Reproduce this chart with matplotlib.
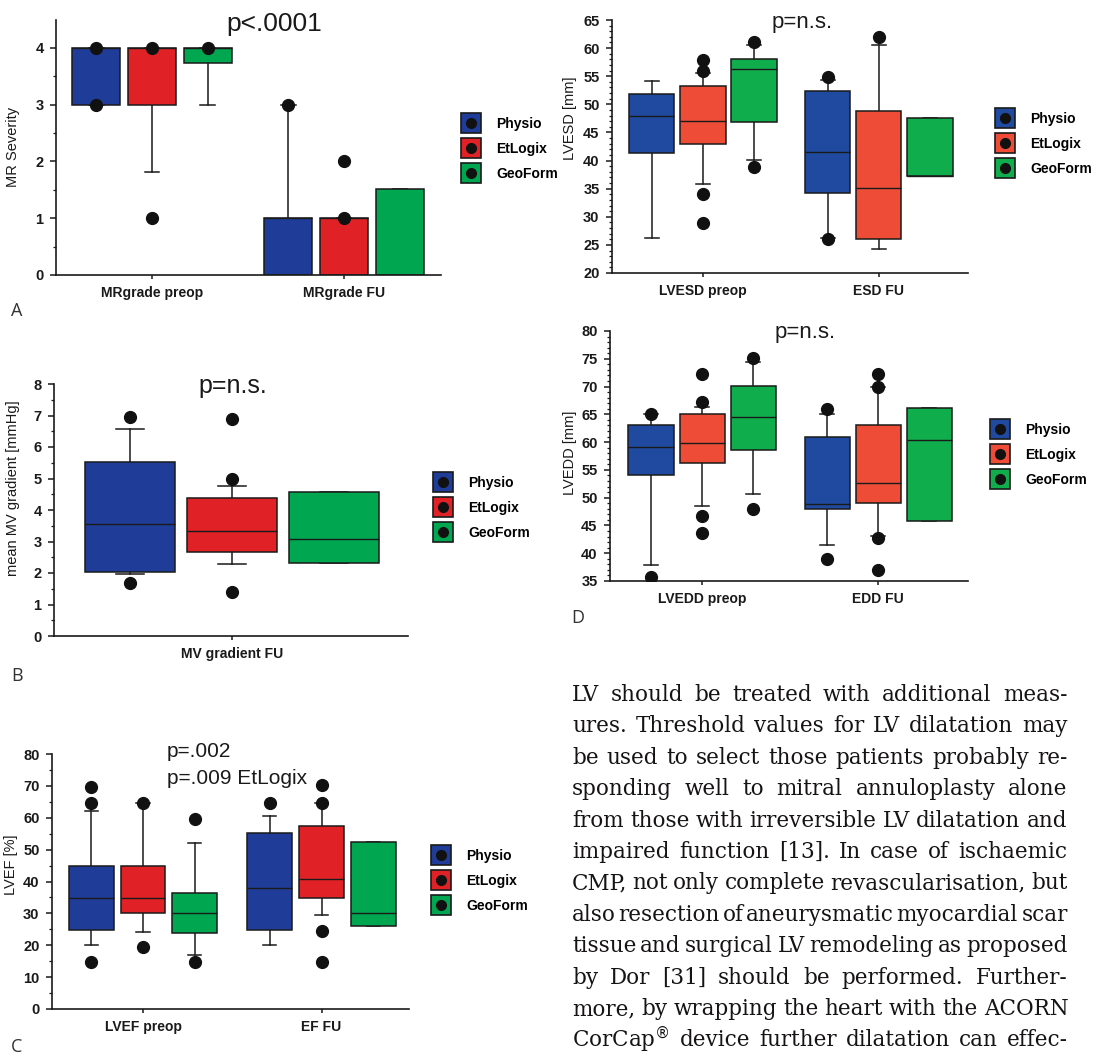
import matplotlib
matplotlib.use("Agg")
import matplotlib.pyplot as plt
from matplotlib.lines import Line2D
from matplotlib.ticker import MultipleLocator

# 群の名前と色
series = ["Physio", "EtLogix", "GeoForm"]
colors_left = ["#1f3c98", "#e02226", "#00a650"]
colors_right = ["#1f4aa0", "#ee4c36", "#10ad4c"]

# A: MR severity
mr_groups = ["MRgrade preop", "MRgrade FU"]
mr_q1 = [3, 3, 3.74, 0, 0, 0]
mr_med = [4, 4, 4, 1, 1, 0]
mr_q3 = [4, 4, 4, 1, 1, 1.51]
mr_lo = [3, 1.81, 3, 0, 0, 0]
mr_hi = [4, 4, 4, 3, 1, 1.51]
mr_out = [[4, 3], [4, 1], [4], [3], [1, 2], []]

# B: mean MV gradient
mv_groups = ["MV gradient FU"]
mv_q1 = [2.02, 2.66, 2.31]
mv_med = [3.55, 3.32, 3.08]
mv_q3 = [5.51, 4.37, 4.56]
mv_lo = [1.96, 2.30, 2.31]
mv_hi = [6.56, 4.77, 4.56]
mv_out = [[6.96, 1.67], [6.89, 4.98, 1.39], []]

# C: LVEF
ef_groups = ["LVEF preop", "EF FU"]
ef_q1 = [24.9, 30.1, 23.8, 24.9, 34.9, 26.0]
ef_med = [34.9, 34.9, 30.2, 37.9, 40.8, 30.1]
ef_q3 = [45.0, 45.0, 36.3, 55.2, 57.5, 52.4]
ef_lo = [20.1, 24.1, 17.0, 20.1, 29.6, 26.0]
ef_hi = [62.2, 64.6, 52.0, 60.4, 64.6, 52.4]
ef_out = [[69.8, 64.6, 14.6], [64.6, 19.6], [59.5, 14.6], [64.6],
          [70.3, 64.6, 24.5, 14.6], []]

# LVESD
esd_groups = ["LVESD preop", "ESD FU"]
esd_q1 = [41.3, 42.9, 46.8, 34.2, 26.0, 37.3]
esd_med = [47.9, 47.1, 56.3, 41.6, 35.1, 37.3]
esd_q3 = [51.8, 53.3, 58.0, 52.4, 48.8, 47.5]
esd_lo = [26.3, 35.8, 40.1, 26.3, 24.2, 37.3]
esd_hi = [54.1, 55.5, 60.6, 54.3, 60.6, 47.5]
esd_out = [[], [57.9, 56.0, 34.0, 28.9], [61.0, 38.9], [54.8, 26.1], [61.9], []]

# D: LVEDD
edd_groups = ["LVEDD preop", "EDD FU"]
edd_q1 = [54.1, 56.2, 58.6, 48.0, 49.1, 45.8]
edd_med = [59.1, 59.8, 64.6, 48.9, 52.7, 60.3]
edd_q3 = [63.1, 65.1, 70.1, 61.0, 63.1, 66.1]
edd_lo = [37.8, 48.5, 50.6, 41.4, 43.1, 45.8]
edd_hi = [65.0, 66.3, 74.4, 65.0, 69.9, 66.1]
edd_out = [[65.0, 35.7], [72.3, 67.2, 46.7, 43.6], [75.2, 47.9], [66.0, 38.9],
           [72.3, 69.9, 42.7, 36.9], []]

text_lines = [
    "LV should be treated with additional meas-",
    "ures. Threshold values for LV dilatation may",
    "be used to select those patients probably re-",
    "sponding well to mitral annuloplasty alone",
    "from those with irreversible LV dilatation and",
    "impaired function [13]. In case of ischaemic",
    "CMP, not only complete revascularisation, but",
    "also resection of aneurysmatic myocardial scar",
    "tissue and surgical LV remodeling as proposed",
    "by Dor [31] should be performed. Further-",
    "more, by wrapping the heart with the ACORN",
    "CorCap$^{\u00ae}$ device further dilatation can effec-",
]

W, H = 1116, 1057
SANS = "Liberation Sans"
INK = "#1a1a1a"

fig = plt.figure(figsize=(W / 100, H / 100), dpi=100)
fig.patch.set_facecolor("white")


def px_axes(x0, x1, ytop, ybot):
    return fig.add_axes([x0 / W, 1 - ybot / H, (x1 - x0) / W, (ybot - ytop) / H])


def box_panel(ax, q1, med, q3, lo, hi, out, positions, width, cols):
    stats = []
    for a, m, b, l, h, f in zip(q1, med, q3, lo, hi, out):
        stats.append(dict(q1=a, med=m, q3=b, whislo=l, whishi=h, fliers=f))
    bp = ax.bxp(stats, positions=positions, widths=width, patch_artist=True,
                manage_ticks=False, capwidths=width * 0.3,
                boxprops=dict(edgecolor=INK, linewidth=1.1, zorder=2),
                medianprops=dict(color=INK, linewidth=1.0, zorder=3),
                whiskerprops=dict(color=INK, linewidth=1.1, zorder=1),
                capprops=dict(color=INK, linewidth=1.1, zorder=1),
                flierprops=dict(marker="o", markersize=8.5, markerfacecolor="#111111",
                                markeredgecolor="#111111", zorder=4))
    for i, patch in enumerate(bp["boxes"]):
        patch.set_facecolor(cols[i % 3])


def style_axes(ax, ylim, major, minor, groups, ticks, xlim):
    ax.set_xlim(*xlim)
    ax.set_ylim(*ylim)
    for s in ("top", "right"):
        ax.spines[s].set_visible(False)
    for s in ("left", "bottom"):
        ax.spines[s].set_linewidth(1.2)
        ax.spines[s].set_color(INK)
    ax.yaxis.set_major_locator(MultipleLocator(major))
    ax.yaxis.set_minor_locator(MultipleLocator(minor))
    ax.set_xticks(ticks)
    ax.set_xticklabels(groups, fontsize=10, fontweight="bold", family=SANS, color=INK)
    ax.tick_params(axis="y", which="major", direction="out", length=4, width=1.1,
                   pad=5, labelsize=10.5, color=INK, labelcolor=INK)
    ax.tick_params(axis="y", which="minor", direction="out", length=2.5, width=0.9, color=INK)
    ax.tick_params(axis="x", direction="out", length=3, width=1.1, pad=5, color=INK)
    for lab in ax.get_yticklabels():
        lab.set_fontweight("bold")
        lab.set_family(SANS)
    ax.set_facecolor("none")


def ylabel_at(ax, text, x_px, y_px):
    ax.set_ylabel(text, fontsize=10.5, family=SANS, color=INK)
    inv = ax.transAxes.inverted()
    xa, ya = inv.transform((x_px, H - y_px))
    ax.yaxis.set_label_coords(xa, ya)


def legend_at(cols, x_px, y_px):
    handles = []
    for c in cols:
        sq = Line2D([], [], marker="s", markersize=14, markerfacecolor=c,
                    markeredgecolor=INK, markeredgewidth=1.2, linestyle="")
        dot = Line2D([], [], marker="o", markersize=7, markerfacecolor="#111111",
                     markeredgecolor="#111111", linestyle="")
        handles.append((sq, dot))
    fig.legend(handles, series, loc="center left", bbox_to_anchor=(x_px / W, 1 - y_px / H),
               bbox_transform=fig.transFigure, frameon=False, handlelength=1.2,
               handletextpad=1.25, labelspacing=0.8,
               prop=dict(family=SANS, size=10, weight="bold"))


def ftext(x_px, y_px, s, **kw):
    return fig.text(x_px / W, 1 - y_px / H, s, **kw)


pos2 = [g + o for g in (0, 1) for o in (-0.29, 0, 0.29)]

# A
axA = px_axes(56, 441, 20, 275)
box_panel(axA, mr_q1, mr_med, mr_q3, mr_lo, mr_hi, mr_out, pos2, 0.25, colors_left)
style_axes(axA, (0, 4.49), 1, 0.5, mr_groups, [0, 1], (-0.5, 1.505))
ylabel_at(axA, "MR Severity", 20, 147)
ftext(274, 31, "p<.0001", ha="center", va="baseline", fontsize=19, family=SANS, color=INK)
legend_at(colors_left, 450, 149)
ftext(11, 316, "A", fontsize=13, family="Open Sans", color="#333333", va="baseline")

# B
axB = px_axes(54, 408, 384, 636)
box_panel(axB, mv_q1, mv_med, mv_q3, mv_lo, mv_hi, mv_out, [-1, 0, 1], 0.89, colors_left)
style_axes(axB, (0, 8), 1, 0.5, mv_groups, [0], (-1.745, 1.725))
ylabel_at(axB, "mean MV gradient [mmHg]", 20, 488)
ftext(233, 393, "p=n.s.", ha="center", va="baseline", fontsize=18, family=SANS, color=INK)
legend_at(colors_left, 422, 508)
ftext(11, 681, "B", fontsize=13, family="Open Sans", color="#333333", va="baseline")

# C
axC = px_axes(52, 409, 754, 1009)
box_panel(axC, ef_q1, ef_med, ef_q3, ef_lo, ef_hi, ef_out, pos2, 0.25, colors_left)
style_axes(axC, (0, 80), 10, 5, ef_groups, [0, 1], (-0.51, 1.49))
ylabel_at(axC, "LVEF [%]", 18, 865)
ftext(167, 757, "p=.002", ha="left", va="baseline", fontsize=15, family=SANS, color=INK)
ftext(167, 784, "p=.009 EtLogix", ha="left", va="baseline", fontsize=15, family=SANS, color=INK)
legend_at(colors_left, 420, 881)
ftext(11, 1052, "C", fontsize=13, family="Open Sans", color="#333333", va="baseline")

# LVESD
axE = px_axes(612, 968, 20, 273)
box_panel(axE, esd_q1, esd_med, esd_q3, esd_lo, esd_hi, esd_out, pos2, 0.256, colors_right)
style_axes(axE, (20, 65), 5, 1, esd_groups, [0, 1], (-0.517, 1.506))
ylabel_at(axE, "LVESD [mm]", 577, 118)
ftext(802, 28, "p=n.s.", ha="center", va="baseline", fontsize=16, family=SANS, color=INK)
legend_at(colors_right, 984, 144)

# D
axD = px_axes(610, 968, 331, 581)
box_panel(axD, edd_q1, edd_med, edd_q3, edd_lo, edd_hi, edd_out, pos2, 0.256, colors_right)
style_axes(axD, (35, 80), 5, 1, edd_groups, [0, 1], (-0.523, 1.51))
ylabel_at(axD, "LVEDD [mm]", 577, 453)
ftext(805, 338, "p=n.s.", ha="center", va="baseline", fontsize=16, family=SANS, color=INK)
legend_at(colors_right, 979, 455)
ftext(571, 623, "D", fontsize=13, family="Open Sans", color="#333333", va="baseline")

# 本文の段落（両端揃え）
renderer = fig.canvas.get_renderer()
x_left, x_right = 572, 1068
serif = "DejaVu Serif"
probe = []
for line in text_lines:
    ws = []
    for w in line.split(" "):
        t = fig.text(0, 0, w, fontsize=10, family=serif)
        ws.append(t.get_window_extent(renderer).width / 10.0)
        t.remove()
    probe.append(ws)

fs = 16.5
while fs > 10:
    ok = True
    for ws in probe:
        need = sum(ws) * fs + (len(ws) - 1) * 0.08 * fs * 100 / 72
        if need > x_right - x_left:
            ok = False
    if ok:
        break
    fs -= 0.25

for i, (line, ws) in enumerate(zip(text_lines, probe)):
    words = line.split(" ")
    widths = [w * fs for w in ws]
    gap = (x_right - x_left - sum(widths)) / (len(words) - 1)
    x = x_left
    base = 701 + 31.4 * i
    for w, wd in zip(words, widths):
        ftext(x, base, w, fontsize=fs, family=serif, color="#161314", va="baseline")
        x += wd + gap

fig.savefig("out.png", dpi=100, facecolor="white")
